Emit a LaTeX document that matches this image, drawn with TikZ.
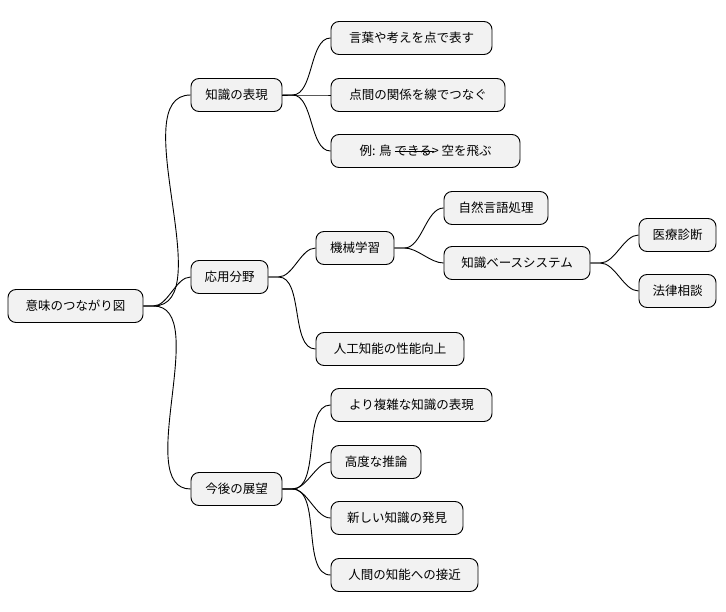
\documentclass[tikz,border=0pt]{standalone}
\usepackage{fontspec}
\setmainfont{Noto Sans CJK JP}
\newcommand\mystrike[1]{\sbox0{#1}\rlap{\rule[0.32em]{\dimexpr\wd0+2pt\relax}{0.8pt}}\box0}
\begin{document}
\begin{tikzpicture}[x=1pt,y=-1pt,
  box/.style={draw=black,line width=0.9pt,fill=black!5,rounded corners=8pt,minimum height=33pt,inner xsep=0pt,font=\fontsize{12.5}{14}\selectfont},
  ln/.style={draw=black,line width=0.9pt}]
\useasboundingbox (0,0) rectangle (726,612);
\node[box,minimum width=135pt] (r) at (75.5,306) {意味のつながり図};
\node[box,minimum width=91pt] (a) at (236.5,95) {知識の表現};
\node[box,minimum width=161pt] (a1) at (411.5,38) {言葉や考えを点で表す};
\node[box,minimum width=174pt] (a2) at (418,95) {点間の関係を線でつなぐ};
\node[box,minimum width=189pt] (a3) at (425.5,151) {例: 鳥 \mystrike{できる}> 空を飛ぶ};
\node[box,minimum width=77pt] (b) at (229.5,277) {応用分野};
\node[box,minimum width=78pt] (b1) at (355,248) {機械学習};
\node[box,minimum width=104pt] (b11) at (496,208) {自然言語処理};
\node[box,minimum width=146pt] (b12) at (517,263) {知識ベースシステム};
\node[box,minimum width=77pt] (b121) at (677.5,235) {医療診断};
\node[box,minimum width=77pt] (b122) at (677.5,291) {法律相談};
\node[box,minimum width=148pt] (b2) at (390,349) {人工知能の性能向上};
\node[box,minimum width=91pt] (c) at (236.5,489) {今後の展望};
\node[box,minimum width=161pt] (c1) at (411.5,405) {より複雑な知識の表現};
\node[box,minimum width=90pt] (c2) at (376,462) {高度な推論};
\node[box,minimum width=132pt] (c3) at (397,518) {新しい知識の発見};
\node[box,minimum width=147pt] (c4) at (404.5,575) {人間の知能への接近};
\foreach \p/\c in {r/a,r/b,r/c,a/a1,a/a2,a/a3,b/b1,b/b2,b1/b11,b1/b12,b12/b121,b12/b122,c/c1,c/c2,c/c3,c/c4}{
  \draw[ln] (\p.east) -- ++(10,0) to[out=0,in=180,looseness=0.8] (\c.west);
}
\end{tikzpicture}
\end{document}
